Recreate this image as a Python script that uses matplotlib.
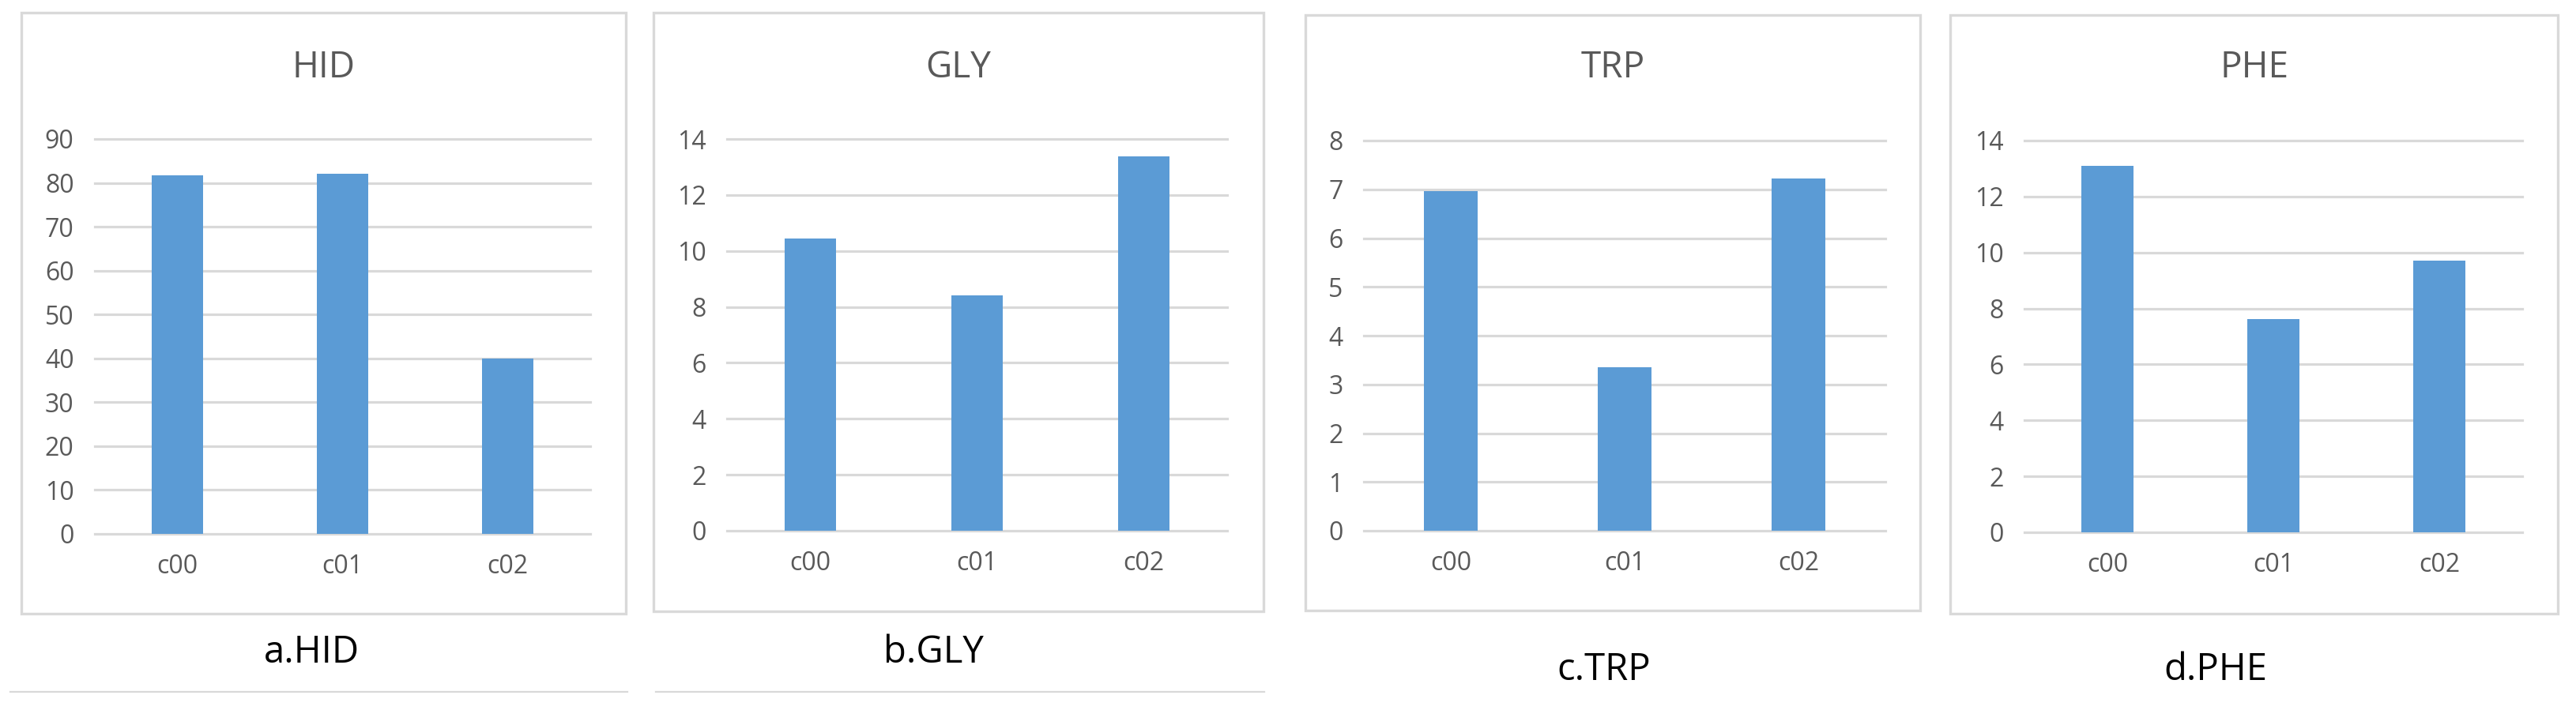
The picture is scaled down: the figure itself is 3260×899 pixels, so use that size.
import matplotlib
matplotlib.use("Agg")
import matplotlib.pyplot as plt
from matplotlib.patches import Rectangle
from matplotlib.lines import Line2D

plt.rcParams['font.family'] = ['Open Sans', 'DejaVu Sans']

# data
categories = ['c00', 'c01', 'c02']
titles = ['HID', 'GLY', 'TRP', 'PHE']
captions = ['a.HID', 'b.GLY', 'c.TRP', 'd.PHE']
hid = [81.7, 82.1, 40.0]
gly = [10.44, 8.40, 13.37]
trp = [6.97, 3.36, 7.22]
phe = [13.09, 7.61, 9.71]
values = [hid, gly, trp, phe]
y_max = [90, 14, 8, 14]
y_step = [10, 2, 1, 2]

# layout in pixels (figure is 3260 x 899)
W, H = 3260, 899
boxes = [(27, 16, 792, 777), (827, 16, 1599, 774), (1652, 19, 2430, 773), (2468, 19, 3237, 777)]
plots = [(120, 176, 747, 676), (920, 176, 1553, 672), (1726, 178, 2386, 672), (2562, 178, 3192, 674)]
cap_pos = [(394, 826), (1181, 826), (2030, 848), (2804, 848)]
under_lines = [(13, 794, 876), (830, 1600, 876)]

BLUE = '#5B9BD5'
GRID = '#D9D9D9'
TXT = '#595959'

fig = plt.figure(figsize=(W / 100, H / 100), dpi=100)

for i in range(4):
    bx0, by0, bx1, by1 = boxes[i]
    fig.add_artist(Rectangle((bx0 / W, 1 - by1 / H), (bx1 - bx0) / W, (by1 - by0) / H,
                             transform=fig.transFigure, fill=False, ec=GRID, lw=2.4))

    px0, py0, px1, py1 = plots[i]
    ax = fig.add_axes([px0 / W, 1 - py1 / H, (px1 - px0) / W, (py1 - py0) / H])
    ax.bar(range(3), values[i], width=0.31, color=BLUE, zorder=3)
    ax.set_xlim(-0.5, 2.5)
    ax.set_ylim(0, y_max[i])
    ax.set_yticks(range(0, y_max[i] + 1, y_step[i]))
    ax.set_xticks(range(3))
    ax.set_xticklabels(categories)
    ax.grid(axis='y', color=GRID, lw=2.3)
    ax.set_axisbelow(True)
    for gl in ax.get_ygridlines():
        gl.set_clip_on(False)
    for s in ax.spines.values():
        s.set_visible(False)
    ax.tick_params(axis='y', length=0, pad=19, labelsize=23, labelcolor=TXT)
    ax.tick_params(axis='x', length=0, pad=18, labelsize=23, labelcolor=TXT)

    fig.text((bx0 + bx1) / 2 / W, 1 - 86 / H, titles[i], ha='center', va='center',
             fontsize=33, color=TXT)
    cx, cy = cap_pos[i]
    fig.text(cx / W, 1 - cy / H, captions[i], ha='center', va='center',
             fontsize=34, color='black')

for x0, x1, y in under_lines:
    fig.add_artist(Line2D([x0 / W, x1 / W], [1 - y / H, 1 - y / H],
                          transform=fig.transFigure, color=GRID, lw=1.6))

fig.savefig('out.png', dpi=100)
